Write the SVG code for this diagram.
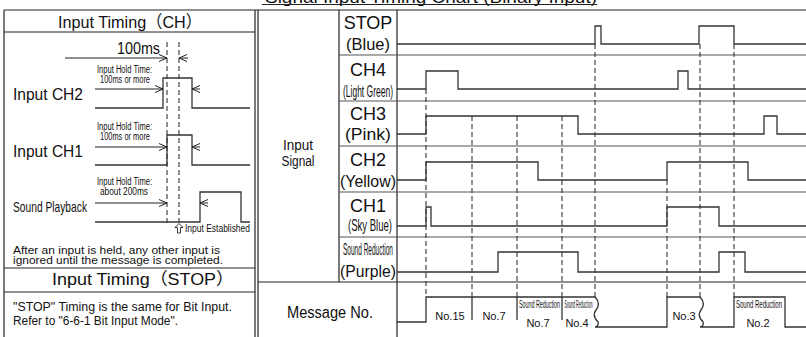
<svg xmlns="http://www.w3.org/2000/svg" width="806" height="337" viewBox="0 0 806 337">
<defs>
<style>
text{font-family:"Liberation Sans","Noto Sans CJK JP",sans-serif;fill:#111}
.frame{stroke:#222;stroke-width:1.2;fill:none}
.row{stroke:#555;stroke-width:1.2;fill:none}
.wave{stroke:#333;stroke-width:1.3;fill:none}
.dash{stroke:#333;stroke-width:1.1;stroke-dasharray:5 3;fill:none}
.arr{stroke:#222;stroke-width:1;fill:none}
.hdr{font-size:17px}
.lbl{font-size:16px}
.sm{font-size:10px}
.sig{font-size:18px;text-anchor:middle}
.sig2{font-size:17px;text-anchor:middle}
.msg{font-size:11px;text-anchor:middle}
</style>
<marker id="ah" viewBox="0 0 8 8" refX="8" refY="4" markerWidth="8" markerHeight="8" markerUnits="userSpaceOnUse" orient="auto">
<path d="M0,0.5 L8,4 L0,7.5" fill="none" stroke="#222" stroke-width="1"/>
</marker>
</defs>
<rect width="806" height="337" fill="#fff"/>

<g id="title">
<text x="265" y="2.5" font-size="16" textLength="332" lengthAdjust="spacingAndGlyphs">Signal Input Timing Chart (Binary Input)</text>
<line x1="262" y1="4.5" x2="597" y2="4.5" class="frame"/>
</g>

<g id="frames">
<line x1="4" y1="10" x2="806" y2="10" class="frame"/>
<line x1="4" y1="10" x2="4" y2="337" class="frame"/>
<line x1="255" y1="10" x2="255" y2="337" class="frame"/>
<line x1="258" y1="10" x2="258" y2="337" class="frame"/>
<line x1="4" y1="32" x2="255" y2="32" class="frame"/>
<line x1="4" y1="268" x2="255" y2="268" class="frame"/>
<line x1="4" y1="292" x2="255" y2="292" class="frame"/>
<line x1="339" y1="10" x2="339" y2="282" class="frame"/>
<line x1="397" y1="10" x2="397" y2="337" class="frame"/>
<line x1="258" y1="282" x2="806" y2="282" class="frame"/>
<line x1="339" y1="55" x2="806" y2="55" class="row"/>
<line x1="339" y1="101" x2="806" y2="101" class="row"/>
<line x1="339" y1="146" x2="806" y2="146" class="row"/>
<line x1="339" y1="192" x2="806" y2="192" class="row"/>
<line x1="339" y1="237" x2="806" y2="237" class="row"/>
</g>

<g id="left-panel">
<text class="hdr" x="58" y="28" textLength="144" lengthAdjust="spacingAndGlyphs">Input Timing（CH）</text>
<text class="lbl" x="117" y="54" textLength="43" lengthAdjust="spacingAndGlyphs">100ms</text>
<text class="sm" x="97" y="73" textLength="55" lengthAdjust="spacingAndGlyphs">Input Hold Time:</text>
<text class="sm" x="100" y="83" textLength="50" lengthAdjust="spacingAndGlyphs">100ms or more</text>
<text class="lbl" x="13" y="100" textLength="70" lengthAdjust="spacingAndGlyphs">Input CH2</text>
<text class="sm" x="97" y="130" textLength="55" lengthAdjust="spacingAndGlyphs">Input Hold Time:</text>
<text class="sm" x="100" y="140" textLength="50" lengthAdjust="spacingAndGlyphs">100ms or more</text>
<text class="lbl" x="13" y="157" textLength="70" lengthAdjust="spacingAndGlyphs">Input CH1</text>
<text class="sm" x="97" y="185" textLength="55" lengthAdjust="spacingAndGlyphs">Input Hold Time:</text>
<text class="sm" x="100" y="195" textLength="48" lengthAdjust="spacingAndGlyphs">about 200ms</text>
<text x="13" y="212" font-size="15" textLength="74" lengthAdjust="spacingAndGlyphs">Sound Playback</text>
<text class="sm" x="185" y="232" textLength="65" lengthAdjust="spacingAndGlyphs">Input Established</text>
<text x="13" y="253.5" font-size="10" textLength="207" lengthAdjust="spacingAndGlyphs">After an input is held, any other input is</text>
<text x="13" y="264" font-size="10" textLength="210" lengthAdjust="spacingAndGlyphs">ignored until the message is completed.</text>
<text class="hdr" x="52" y="285" textLength="182" lengthAdjust="spacingAndGlyphs">Input Timing（STOP）</text>
<text x="13" y="311" font-size="12.5" textLength="219" lengthAdjust="spacingAndGlyphs">"STOP" Timing is the same for Bit Input.</text>
<text x="13" y="325" font-size="12.5" textLength="165" lengthAdjust="spacingAndGlyphs">Refer to "6-6-1 Bit Input Mode".</text>
</g>

<g id="left-waves">
<path class="wave" d="M95,108 H163 V78 H192 V108 H250"/>
<path class="wave" d="M95,165 H167 V135 H192 V165 H250"/>
<path class="wave" d="M95,222 H200 V192 H241 V222 H250"/>
<line class="dash" x1="167" y1="42" x2="167" y2="226"/>
<line class="dash" x1="179" y1="42" x2="179" y2="222"/>
<line class="arr" x1="65" y1="58" x2="167" y2="58" marker-end="url(#ah)"/>
<line class="arr" x1="188" y1="58" x2="179" y2="58" marker-end="url(#ah)"/>
<line class="arr" x1="95" y1="89" x2="163" y2="89" marker-end="url(#ah)"/>
<line class="arr" x1="200" y1="89" x2="192" y2="89" marker-end="url(#ah)"/>
<line class="arr" x1="95" y1="147" x2="167" y2="147" marker-end="url(#ah)"/>
<line class="arr" x1="200" y1="147" x2="192" y2="147" marker-end="url(#ah)"/>
<line class="arr" x1="95" y1="203" x2="167" y2="203" marker-end="url(#ah)"/>
<line class="arr" x1="208" y1="203" x2="200" y2="203" marker-end="url(#ah)"/>
<path d="M179,223.5 L175,227.5 L177.5,227.5 L177.5,233 L180.5,233 L180.5,227.5 L183,227.5 Z" fill="#fff" stroke="#222" stroke-width="0.9"/>
</g>

<g id="labels">
<text x="298" y="150" font-size="14" text-anchor="middle" textLength="30" lengthAdjust="spacingAndGlyphs">Input</text>
<text x="298" y="166" font-size="14" text-anchor="middle" textLength="33" lengthAdjust="spacingAndGlyphs">Signal</text>
<text class="sig" x="368" y="29">STOP</text>
<text class="sig2" x="368" y="50" textLength="44" lengthAdjust="spacingAndGlyphs">(Blue)</text>
<text class="sig" x="368" y="76">CH4</text>
<text class="sig2" x="368" y="97" font-size="14" textLength="50" lengthAdjust="spacingAndGlyphs">(Light Green)</text>
<text class="sig" x="368" y="120">CH3</text>
<text class="sig2" x="368" y="140" textLength="46" lengthAdjust="spacingAndGlyphs">(Pink)</text>
<text class="sig" x="368" y="166">CH2</text>
<text class="sig2" x="368" y="187" textLength="56" lengthAdjust="spacingAndGlyphs">(Yellow)</text>
<text class="sig" x="368" y="212">CH1</text>
<text class="sig2" x="370" y="231" font-size="14" textLength="44" lengthAdjust="spacingAndGlyphs">(Sky Blue)</text>
<text class="sig2" x="368" y="255" font-size="13" textLength="50" lengthAdjust="spacingAndGlyphs">Sound Reduction</text>
<text class="sig2" x="368" y="277" textLength="56" lengthAdjust="spacingAndGlyphs">(Purple)</text>
<text x="330" y="318" font-size="16" text-anchor="middle" textLength="86" lengthAdjust="spacingAndGlyphs">Message No.</text>
</g>

<g id="connectors">
<line class="dash" x1="426" y1="89" x2="426" y2="297"/>
<line class="dash" x1="472" y1="116" x2="472" y2="297"/>
<line class="dash" x1="517" y1="116" x2="517" y2="297"/>
<line class="dash" x1="562" y1="116" x2="562" y2="297"/>
<line class="dash" x1="595" y1="44" x2="595" y2="297"/>
<line class="dash" x1="667" y1="180" x2="667" y2="297"/>
<line class="dash" x1="700" y1="44" x2="700" y2="297"/>
<line class="dash" x1="734" y1="44" x2="734" y2="297"/>
</g>

<g id="waves">
<path class="wave" d="M397,44 H595 V26 H601 V44 H699 V26 H734 V44 H806"/>
<path class="wave" d="M397,89 H426 V71 H458 V89 H678 V71 H688 V89 H806"/>
<path class="wave" d="M397,134 H426 V116 H578 V134 H764 V116 H777 V134 H806"/>
<path class="wave" d="M397,180 H426 V162 H538 V180 H667 V162 H748 V180 H806"/>
<path class="wave" d="M397,226 H426 V207 H431 V226 H667 V207 H719 V226 H806"/>
<path class="wave" d="M397,272 H498 V252 H578 V272 H719 V252 H745 V272 H806"/>
</g>

<g id="message">
<path class="wave" d="M397,322 H426 V297 H595 C599,301 599,306 596,310 C593,314 594,318 598,322 C599,325 597,327 595,327 H667 V297 H700 C704,301 704,306 701,310 C698,314 699,318 703,322 C704,325 702,327 700,327 H734 V297 H785 V327 H806"/>
<line class="wave" x1="472" y1="297" x2="472" y2="320"/>
<line class="wave" x1="517" y1="297" x2="517" y2="320"/>
<line class="wave" x1="562" y1="297" x2="562" y2="320"/>
<text class="msg" x="450" y="320">No.15</text>
<text class="msg" x="494" y="320">No.7</text>
<text class="msg" x="539.5" y="308" font-size="10" textLength="41" lengthAdjust="spacingAndGlyphs">Sound Reduction</text>
<text class="msg" x="538" y="327">No.7</text>
<text class="msg" x="578.5" y="308" font-size="9" textLength="28" lengthAdjust="spacingAndGlyphs">Sound Reduction</text>
<text class="msg" x="577" y="327">No.4</text>
<text class="msg" x="684" y="320">No.3</text>
<text class="msg" x="759" y="308" font-size="10.5" textLength="46" lengthAdjust="spacingAndGlyphs">Sound Reduction</text>
<text class="msg" x="758" y="327">No.2</text>
</g>
</svg>
